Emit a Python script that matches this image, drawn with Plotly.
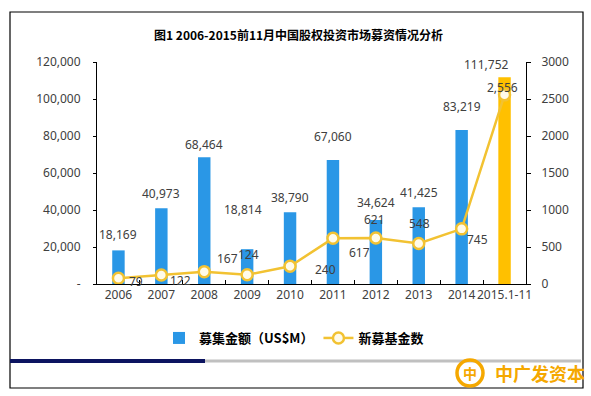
import plotly.graph_objects as go

# ---------------- data ----------------
years = ["2006", "2007", "2008", "2009", "2010", "2011", "2012", "2013", "2014", "2015.1-11"]
raised_usd_m = [18169, 40973, 68464, 18814, 38790, 67060, 34624, 41425, 83219, 111752]
new_funds = [79, 122, 167, 124, 240, 617, 621, 548, 745, 2556]
left_ticks = [0, 20000, 40000, 60000, 80000, 100000, 120000]
left_tick_text = ["-", "20,000", "40,000", "60,000", "80,000", "100,000", "120,000"]
right_ticks = [0, 500, 1000, 1500, 2000, 2500, 3000]

title = "图1 2006-2015前11月中国股权投资市场募资情况分析"
bar_name = "募集金额（US$M）"
line_name = "新募基金数"
logo_text = "中广发资本"

# ---------------- style ----------------
W, H = 591, 396
ML, MR, MT, MB = 97, 65, 62, 112
PW, PH = W - ML - MR, H - MT - MB
BLUE = "#2a97e6"
GOLD = "#ffc000"
LINE = "#f2c232"
TXT = "#404040"
FONT = "Noto Sans, Noto Sans CJK SC, sans-serif"
bar_colors = [BLUE] * (len(years) - 1) + [GOLD]

# label pixel offsets (as seen in the reference)
bar_dx = [0, 0, 0, -4, 0, 0, 0, 0, 0, -18]
bar_dy = [16, 15, 13, 40, 15, 23, 17, 15, 24, 13]
line_dx = [18, 19, 23, 1, 35, 27, -1, 1, 16, -2]
line_dy = [-3, -6, 13, 20, -3, -14, 19, 20, -11, 7]


def px(x):
    return (x - ML) / PW


def py(y):
    return (MT + PH - y) / PH


fig = go.Figure()
fig.add_trace(go.Bar(
    x=years, y=raised_usd_m, name=f"<b>{bar_name}</b>",
    marker=dict(color=bar_colors, line=dict(width=0)), width=0.29, yaxis="y",
))
fig.add_trace(go.Scatter(
    x=years, y=new_funds, name=f"<b>{line_name}</b>", yaxis="y2", mode="lines+markers",
    line=dict(color=LINE, width=2.5),
    marker=dict(size=11, color="#fffbea", line=dict(color=LINE, width=2.5)),
))

annotations = []
for i, v in enumerate(raised_usd_m):
    annotations.append(dict(x=i, y=v, xref="x", yref="y", text=f"{v:,}", showarrow=False,
                            xanchor="center", yanchor="middle",
                            xshift=bar_dx[i], yshift=bar_dy[i],
                            font=dict(size=12, color=TXT, family=FONT)))
for i, v in enumerate(new_funds):
    annotations.append(dict(x=i, y=v, xref="x", yref="y2", text=f"{v:,}", showarrow=False,
                            xanchor="center", yanchor="middle",
                            xshift=line_dx[i], yshift=line_dy[i],
                            font=dict(size=12, color=TXT, family=FONT)))

annotations.append(dict(x=px(298), y=py(35), xref="paper", yref="paper", text=f"<b>{title}</b>",
                        xanchor="center", yanchor="middle",
                        showarrow=False, font=dict(size=12, color="#000000", family="Noto Sans CJK SC")))
annotations.append(dict(x=px(540), y=py(373), xref="paper", yref="paper", text=f"<b>{logo_text}</b>",
                        xanchor="center", yanchor="middle",
                        showarrow=False, font=dict(size=18, color="#f5a800", family="Noto Sans CJK SC")))
annotations.append(dict(x=px(470), y=py(373), xref="paper", yref="paper", text="<b>中</b>",
                        xanchor="center", yanchor="middle",
                        showarrow=False, font=dict(size=14, color="#f5a800", family="Noto Sans CJK SC")))

shapes = [
    dict(type="rect", xref="paper", yref="paper", x0=px(10), x1=px(583), y0=py(388), y1=py(12),
         line=dict(color="#000000", width=1.2)),
    dict(type="line", xref="paper", yref="paper", x0=px(10), x1=px(205), y0=py(361), y1=py(361),
         line=dict(color="#0c1460", width=4)),
    dict(type="line", xref="paper", yref="paper", x0=px(205), x1=px(581), y0=py(361), y1=py(361),
         line=dict(color="#c0c0c0", width=3)),
    dict(type="circle", xref="paper", yref="paper", x0=px(457), x1=px(483), y0=py(386), y1=py(360),
         line=dict(color="#f5a800", width=3.5)),
]

fig.update_layout(
    width=W, height=H, margin=dict(l=ML, r=MR, t=MT, b=MB, autoexpand=False),
    paper_bgcolor="white", plot_bgcolor="white",
    font=dict(family=FONT, size=12, color=TXT),
    showlegend=True,
    legend=dict(orientation="h", x=px(294), y=py(338), xanchor="center", yanchor="middle",
                font=dict(size=13, color="#000000", family="Noto Sans CJK SC"),
                itemwidth=30, bgcolor="rgba(0,0,0,0)"),
    xaxis=dict(type="category", showline=True, linecolor="#000000", linewidth=1,
               ticks="inside", ticklen=4, tickcolor="#000000", tickson="boundaries",
               showgrid=False, tickfont=dict(size=12, color=TXT), range=[-0.5, 9.5],
               tickangle=0, automargin=False),
    yaxis=dict(range=[0, 120000], tickvals=left_ticks, ticktext=left_tick_text,
               showline=True, linecolor="#000000", linewidth=1, ticks="outside", ticklen=3,
               tickcolor="#000000", showgrid=False, zeroline=False, tickfont=dict(size=12, color=TXT),
               ticklabelstandoff=10, automargin=False),
    yaxis2=dict(range=[0, 3000], tickvals=right_ticks, overlaying="y", side="right",
                showline=True, linecolor="#000000", linewidth=1, ticks="outside", ticklen=4,
                tickcolor="#000000", showgrid=False, zeroline=False, tickfont=dict(size=12, color=TXT),
                ticklabelstandoff=8, automargin=False),
    annotations=annotations, shapes=shapes,
)

fig.write_html("out.html", config={"displayModeBar": False},
               post_script="document.body.style.margin='0';")
